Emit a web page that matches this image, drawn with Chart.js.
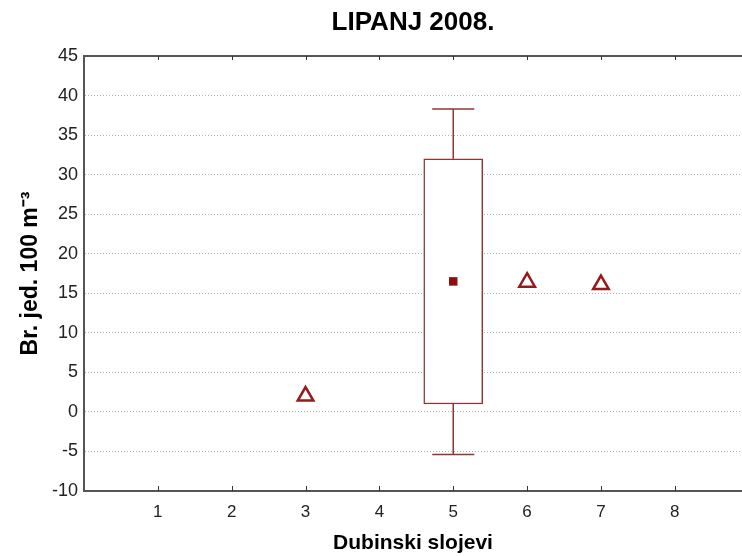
<!DOCTYPE html>
<html>
<head>
<meta charset="utf-8">
<script src="https://cdn.jsdelivr.net/npm/chart.js@4.4.1/dist/chart.umd.min.js"></script>
<style>
html,body{margin:0;padding:0;background:#fff;overflow:hidden}
#wrap{width:742px;height:556px}
</style>
</head>
<body>
<div id="wrap"><canvas id="c" width="742" height="556"></canvas></div>
<script>
// ---- data ----
const chartTitle = 'LIPANJ 2008.';
const xAxisTitle = 'Dubinski slojevi';
const yAxisTitle = 'Br. jed. 100 m\u207B\u00B3';
const xTickValues = [1, 2, 3, 4, 5, 6, 7, 8];
const yTickValues = [-10, -5, 0, 5, 10, 15, 20, 25, 30, 35, 40, 45];

// layers with a single value (triangles)
const singleLayers = [3, 6, 7];
const singleValues = [2.0, 16.4, 16.1];

// layer with box (mean, box, whiskers)
const boxLayers = [5];
const boxMeans = [16.5];
const boxLower = [1.0];
const boxUpper = [32.0];
const whiskerLower = [-5.4];
const whiskerUpper = [38.3];

// ---- styles ----
const FONT = "'Liberation Sans', Arial, sans-serif";
const DARK_RED = '#951a1a';
const BOX_RED = '#8e3636';
const CAP_HALF = 0.285;

const whiskerDatasets = [];
boxLayers.forEach((L, i) => {
  const segs = [
    [{x: L, y: boxUpper[i]}, {x: L, y: whiskerUpper[i]}],
    [{x: L - CAP_HALF, y: whiskerUpper[i]}, {x: L + CAP_HALF, y: whiskerUpper[i]}],
    [{x: L, y: boxLower[i]}, {x: L, y: whiskerLower[i]}],
    [{x: L - CAP_HALF, y: whiskerLower[i]}, {x: L + CAP_HALF, y: whiskerLower[i]}]
  ];
  segs.forEach(s => whiskerDatasets.push({
    type: 'line', data: s, showLine: true, borderColor: BOX_RED, borderWidth: 1.5,
    pointRadius: 0, fill: false, order: 1
  }));
});

const frameTicks = {
  id: 'frameTicks',
  afterDraw(chart) {
    const {ctx, chartArea: a, scales: {x}} = chart;
    ctx.save();
    ctx.strokeStyle = '#555';
    ctx.lineWidth = 2;
    ctx.beginPath();
    ctx.moveTo(a.left - 1, a.top);
    ctx.lineTo(a.right, a.top);
    ctx.stroke();
    ctx.lineWidth = 1;
    ctx.strokeStyle = '#333';
    ctx.beginPath();
    xTickValues.forEach(v => {
      const px = Math.round(x.getPixelForValue(v)) + 0.5;
      ctx.moveTo(px, a.bottom); ctx.lineTo(px, a.bottom - 5);
      ctx.moveTo(px, a.top); ctx.lineTo(px, a.top + 4);
    });
    ctx.stroke();
    ctx.restore();
  }
};

new Chart(document.getElementById('c'), {
  type: 'scatter',
  data: {
    datasets: [
      {
        type: 'bar',
        data: boxLayers.map((L, i) => ({x: L, y: [boxLower[i], boxUpper[i]]})),
        backgroundColor: '#ffffff',
        borderColor: BOX_RED,
        borderWidth: 1.5,
        borderSkipped: false,
        barThickness: 59,
        grouped: false,
        order: 2
      },
      ...whiskerDatasets,
      {
        type: 'scatter',
        data: boxLayers.map((L, i) => ({x: L, y: boxMeans[i]})),
        pointStyle: 'rect',
        pointRadius: 6,
        backgroundColor: '#8a0f0f',
        borderColor: '#8a0f0f',
        borderWidth: 0,
        order: 0
      },
      {
        type: 'scatter',
        data: singleLayers.map((L, i) => ({x: L, y: singleValues[i]})),
        pointStyle: 'triangle',
        pointRadius: 9,
        backgroundColor: '#ffffff',
        borderColor: DARK_RED,
        borderWidth: 2.5,
        order: 0
      }
    ]
  },
  options: {
    responsive: false,
    animation: false,
    devicePixelRatio: 1,
    layout: {autoPadding: false, padding: {left: 0, right: 0, top: 0, bottom: 0}},
    plugins: {
      legend: {display: false},
      tooltip: {enabled: false},
      title: {
        display: true,
        text: chartTitle,
        fullSize: false,
        color: '#000',
        font: {family: FONT, size: 26, weight: 'bold'},
        padding: {top: 7, bottom: 17.8}
      }
    },
    scales: {
      x: {
        type: 'linear',
        min: 0,
        max: 8.91,
        offset: false,
        afterBuildTicks: s => { s.ticks = xTickValues.map(v => ({value: v})); },
        afterFit: s => { s.height = 65; s.paddingLeft = 0; s.paddingRight = 0; },
        grid: {display: false, drawTicks: false},
        border: {display: true, color: '#555', width: 2},
        ticks: {color: '#222', font: {family: FONT, size: 17}, padding: 11, maxRotation: 0, autoSkip: false},
        title: {display: true, text: xAxisTitle, color: '#000', font: {family: FONT, size: 21, weight: 'bold'}, padding: {top: 0, bottom: 0}}
      },
      y: {
        type: 'linear',
        min: -10,
        max: 45,
        afterBuildTicks: s => { s.ticks = yTickValues.map(v => ({value: v})); },
        afterFit: s => { s.width = 84; },
        grid: {
          drawTicks: false,
          color: ctx => (ctx.tick && (ctx.tick.value === -10 || ctx.tick.value === 45)) ? 'rgba(0,0,0,0)' : '#b4b4b4',
          lineWidth: 1
        },
        border: {display: true, color: '#555', width: 2, dash: [1, 2]},
        ticks: {color: '#222', font: {family: FONT, size: 18}, padding: 6},
        title: {display: true, text: yAxisTitle, color: '#000', font: {family: FONT, size: 23, weight: 'bold'}, padding: {top: 17, bottom: 0}}
      }
    }
  },
  plugins: [frameTicks]
});
</script>
</body>
</html>
